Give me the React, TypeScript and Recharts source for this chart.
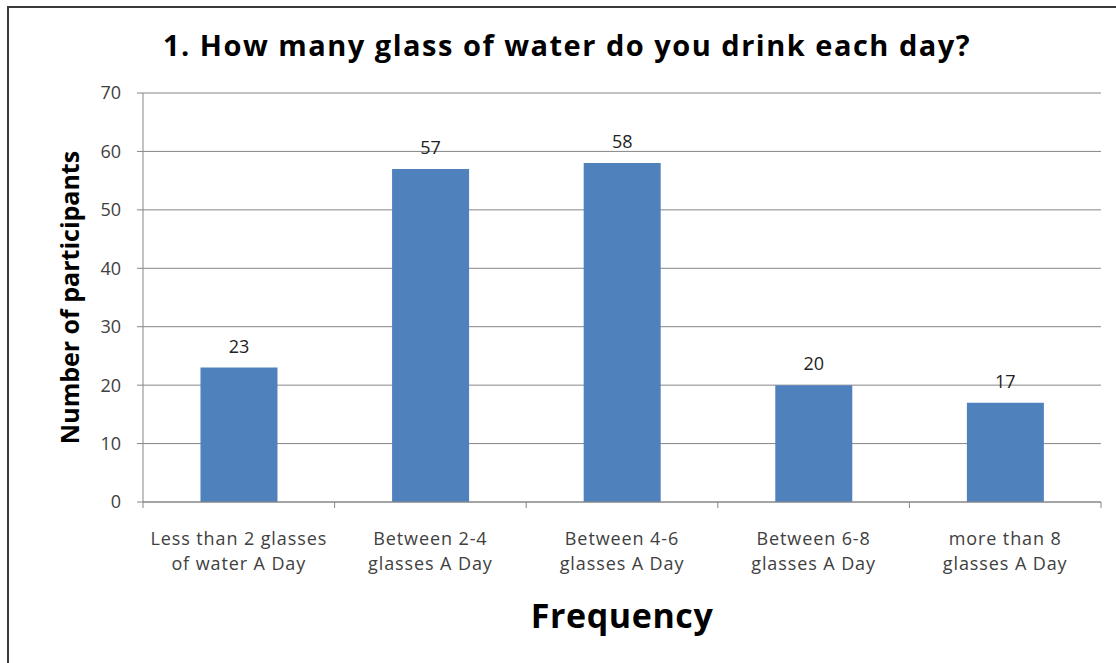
import { BarChart, Bar, XAxis, YAxis, CartesianGrid, LabelList } from 'recharts'

const categories = [
    'Less than 2 glasses\nof water A Day',
    'Between 2-4\nglasses A Day',
    'Between 4-6\nglasses A Day',
    'Between 6-8\nglasses A Day',
    'more than 8\nglasses A Day'
];
const participants = [23, 57, 58, 20, 17];
const yTicks = [0, 10, 20, 30, 40, 50, 60, 70];

const data = categories.map((name, i) => ({ name, value: participants[i] }));

const FONT = '"Open Sans", "Noto Sans", sans-serif';

const CategoryTick = (props) => {
    const { x, y, payload, index, visibleTicksCount } = props;
    const half = payload.offset ?? 95.8;
    const lines = String(payload.value).split('\n');
    const isLast = index === (visibleTicksCount ?? categories.length) - 1;

    return (
        <g>
            <line x1={x - half} x2={x - half} y1={y} y2={y + 6} stroke='#868686' />
            {isLast && <line x1={x + half} x2={x + half} y1={y} y2={y + 6} stroke='#868686' />}
            <text textAnchor='middle' fill='#404040' fontSize={18} fontFamily={FONT} style={{ letterSpacing: 0.9 }}>
                {lines.map((line, i) => (
                    <tspan key={i} x={x} y={y + 43 + i * 25}>{line}</tspan>
                ))}
            </text>
        </g>
    );
};

const App = () => {
    return (
        <div style={{ position: 'absolute', left: 0, top: 0, width: 1116, height: 663, overflow: 'hidden', background: '#fff' }}>
            <div style={{ position: 'absolute', left: 7, top: 6, width: 1200, height: 800, border: '2px solid #3a3a3a' }} />
            <div
                style={{
                    position: 'absolute', left: 0, top: 25, width: 1134, textAlign: 'center',
                    fontFamily: FONT, fontWeight: 700, fontSize: 29, letterSpacing: 1.5, color: '#000'
                }}
            >
                1. How many glass of water do you drink each day?
            </div>
            <div style={{ position: 'absolute', left: 0, top: 0 }}>
                <BarChart
                    width={1116}
                    height={663}
                    data={data}
                    margin={{ top: 93, right: 15, bottom: 0, left: 0 }}
                    barCategoryGap='30%'
                >
                    <CartesianGrid vertical={false} stroke='#868686' />
                    <XAxis
                        dataKey='name'
                        height={161}
                        interval={0}
                        tickLine={false}
                        tickSize={0}
                        tickMargin={0}
                        axisLine={{ stroke: '#868686' }}
                        tick={<CategoryTick />}
                        label={{
                            value: 'Frequency', position: 'insideBottom', offset: 35,
                            style: { fontFamily: FONT, fontWeight: 700, fontSize: 34, letterSpacing: 0.6, fill: '#000' }
                        }}
                    />
                    <YAxis
                        width={143}
                        domain={[0, 70]}
                        ticks={yTicks}
                        interval={0}
                        tickSize={6}
                        tickMargin={16}
                        axisLine={{ stroke: '#868686' }}
                        tickLine={{ stroke: '#868686' }}
                        tick={{ fill: '#404040', fontSize: 18, fontFamily: FONT }}
                        label={{
                            value: 'Number of participants', angle: -90, position: 'insideLeft', offset: 70,
                            style: { textAnchor: 'middle', fontFamily: FONT, fontWeight: 700, fontSize: 25, fill: '#000' }
                        }}
                    />
                    <Bar dataKey='value' fill='#4f81bd' isAnimationActive={false}>
                        <LabelList dataKey='value' position='top' offset={15} fill='#222' fontSize={18} fontFamily={FONT} />
                    </Bar>
                </BarChart>
            </div>
        </div>
    );
};

export default App;
